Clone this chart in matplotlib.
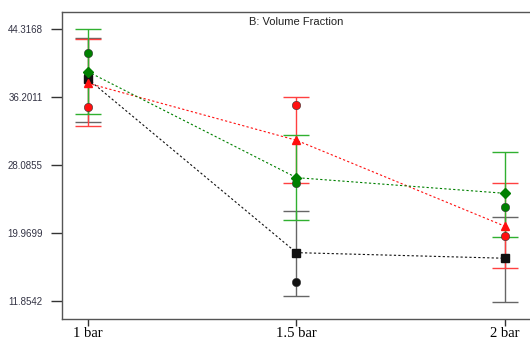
import matplotlib
matplotlib.use("Agg")
import matplotlib.pyplot as plt

# ─── Data ───
levels = ["1 bar", "1.5 bar", "2 bar"]
x_pos = [1.0, 1.5, 2.0]
y_ticks = [11.8542, 19.9699, 28.0855, 36.2011, 44.3168]

# black series (square = prediction, circle = design point)
black_mean = [38.35, 17.62, 16.95]
black_low = [33.18, 12.45, 11.70]
black_high = [43.28, 22.56, 21.92]
black_pts = [38.9, 14.08, 16.95]

# red series (triangle)
red_mean = [37.84, 31.03, 20.77]
red_low = [32.74, 25.97, 15.83]
red_high = [43.09, 36.17, 25.90]
red_pts = [35.04, 35.25, 19.61]

# green series (diamond)
green_mean = [39.22, 26.57, 24.70]
green_low = [34.14, 21.49, 19.46]
green_high = [44.28, 31.67, 29.64]
green_pts = [41.42, 25.97, 23.11]

series = [
    ("#111111", "#666666", "s", black_mean, black_low, black_high, black_pts),
    ("#ff1010", "#ff4040", "^", red_mean, red_low, red_high, red_pts),
    ("#008000", "#30b030", "D", green_mean, green_low, green_high, green_pts),
]

fig = plt.figure(figsize=(5.3, 3.4), dpi=100)
ax = fig.add_axes([0.117, 0.062, 0.883, 0.903])

for col, barcol, mk, mean, lo, hi, pts in series:
    yerr = [[m - l for m, l in zip(mean, lo)], [h - m for m, h in zip(mean, hi)]]
    ax.errorbar(x_pos, mean, yerr=yerr, fmt="none", ecolor=barcol,
                elinewidth=1.0, capsize=9.5, capthick=1.0, zorder=2)
    ax.plot(x_pos, mean, color=col, lw=0.8, ls=(0, (2, 2)), zorder=3)
    ax.plot(x_pos, pts, ls="none", marker="o", ms=6, color=col,
            mec="#333333", mew=0.4, zorder=4)
    ax.plot(x_pos, mean, ls="none", marker=mk, ms=6 if mk != "D" else 5,
            color=col, mec=col, zorder=5)

ax.set_xlim(0.938, 2.06)
ax.set_ylim(9.71, 46.35)
ax.set_xticks(x_pos)
ax.set_xticklabels(levels, fontfamily="Liberation Serif", fontsize=10.5)
ax.set_yticks(y_ticks)
ax.set_yticklabels([f"{v:.4f}" for v in y_ticks], fontfamily="Liberation Sans",
                   fontsize=7, color="#333344")
ax.tick_params(axis="y", length=8, width=1, color="#333333", pad=6)
ax.tick_params(axis="x", length=5, width=1, color="#333333", pad=0.5)

ax.spines["right"].set_visible(False)
for s in ("left", "bottom", "top"):
    ax.spines[s].set_color("#555555")
    ax.spines[s].set_linewidth(1.0)

ax.text(0.5, 0.985, "B: Volume Fraction", transform=ax.transAxes, ha="center",
        va="top", fontfamily="Liberation Sans", fontsize=8, color="#222222")

fig.savefig("out.png", dpi=100)
